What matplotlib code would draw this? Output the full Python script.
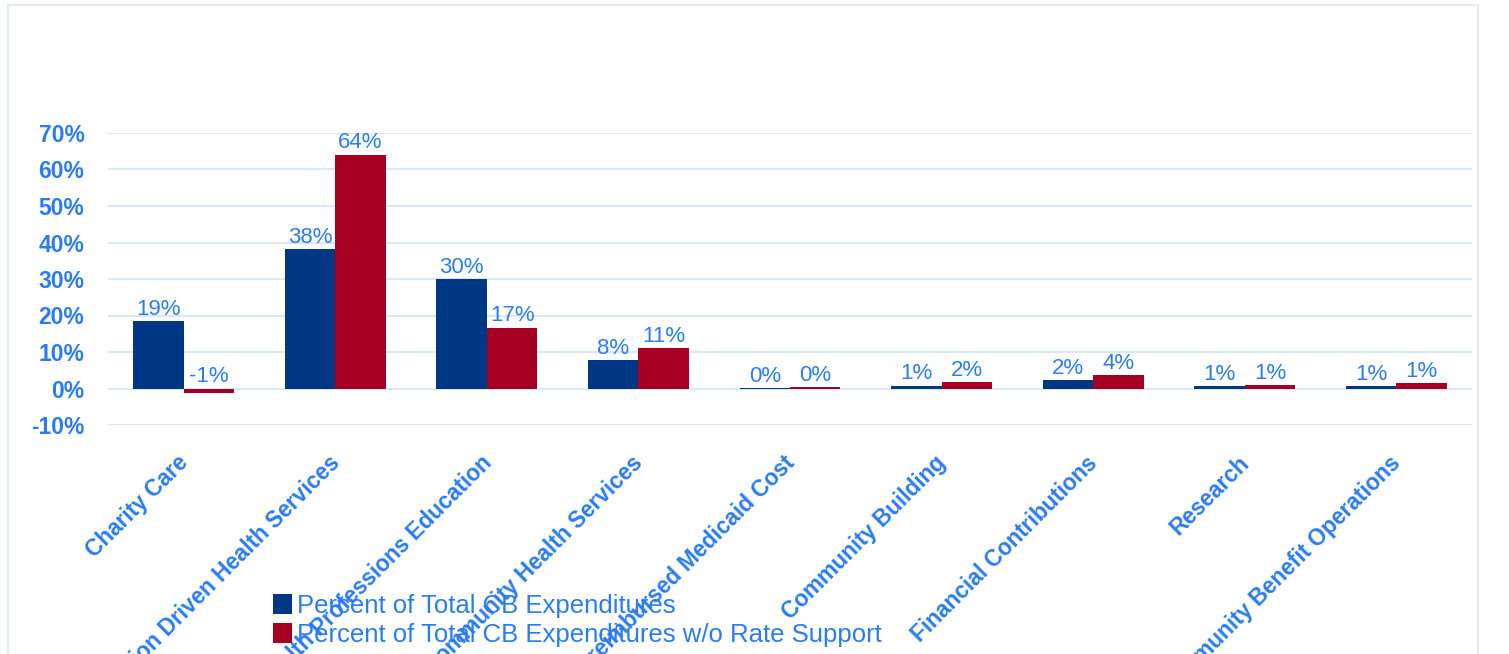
import matplotlib
matplotlib.use("Agg")
import matplotlib.pyplot as plt
from matplotlib.patches import Rectangle, Patch
from matplotlib.transforms import ScaledTranslation
import numpy as np

categories = ["Charity Care", "Mission Driven Health Services", "Health Professions Education",
              "Community Health Services", "Unreimbursed Medicaid Cost", "Community Building",
              "Financial Contributions", "Research", "Community Benefit Operations"]
pct_total = [18.6, 38.1, 29.9, 7.9, 0.1, 0.8, 2.2, 0.6, 0.6]
pct_total_labels = ["19%", "38%", "30%", "8%", "0%", "1%", "2%", "1%", "1%"]
pct_wo_rate = [-1.2, 64.1, 16.7, 11.2, 0.3, 1.8, 3.8, 1.0, 1.4]
pct_wo_rate_labels = ["-1%", "64%", "17%", "11%", "0%", "2%", "4%", "1%", "1%"]
series_names = ["Percent of Total CB Expenditures", "Percent of Total CB Expenditures w/o Rate Support"]
yticks = [-10, 0, 10, 20, 30, 40, 50, 60, 70]

BLUE = "#003785"
RED = "#A50021"
TXT = "#2a7cf0"
GRID = "#d8e7fb"

plt.rcParams['font.family'] = ['Liberation Sans', 'DejaVu Sans']

W, H = 1509, 654
fig = plt.figure(figsize=(W / 100, H / 100), dpi=100)
fig.patches.append(Rectangle((8 / W, -0.01), (1478 - 8) / W, 1 - 5 / H + 0.01,
                             transform=fig.transFigure, fill=False,
                             edgecolor="#dfe6f0", linewidth=1.2))

ax = fig.add_axes([108 / W, 1 - 425 / H, 1364 / W, (425 - 133) / H])
x = np.arange(len(categories))
bw = 0.333
ax.bar(x - bw / 2, pct_total, width=bw, color=BLUE, zorder=3)
ax.bar(x + bw / 2, pct_wo_rate, width=bw, color=RED, zorder=3)

for xi, v, lab in zip(x - bw / 2, pct_total, pct_total_labels):
    ax.text(xi, max(v, 0) + 0.3, lab, ha="center", va="bottom", color=TXT, fontsize=16, zorder=4)
for xi, v, lab in zip(x + bw / 2, pct_wo_rate, pct_wo_rate_labels):
    ax.text(xi, max(v, 0) + 0.3, lab, ha="center", va="bottom", color=TXT, fontsize=16, zorder=4)

ax.set_xlim(-0.5, len(categories) - 0.5)
ax.set_ylim(-10, 70)
ax.set_yticks(yticks)
ax.set_yticklabels([f"{t}%" for t in yticks], color=TXT, fontsize=16.5, fontweight="bold")
ax.yaxis.grid(True, color=GRID, linewidth=1.5, zorder=0)
ax.set_axisbelow(True)
for s in ax.spines.values():
    s.set_visible(False)
ax.tick_params(axis="y", length=0, pad=17)
ax.tick_params(axis="x", length=0, pad=19)
ax.set_xticks(x)
ax.set_xticklabels(categories, rotation=45, ha="right", va="top", rotation_mode="anchor",
                   color=TXT, fontsize=16.3, fontweight="bold")
off = ScaledTranslation(-7 / 100, 0, fig.dpi_scale_trans)
for lbl in ax.get_xticklabels():
    lbl.set_transform(lbl.get_transform() + off)

handles = [Patch(facecolor=BLUE), Patch(facecolor=RED)]
leg = fig.legend(handles, series_names, loc="upper left", bbox_to_anchor=(273 / W, 1 - 594 / H),
                 frameon=False, fontsize=18.5, handlelength=0.75, handleheight=0.85,
                 handletextpad=0.2, labelspacing=0.17, borderpad=0, borderaxespad=0)
for t in leg.get_texts():
    t.set_color(TXT)

fig.savefig("out.png", dpi=100)
